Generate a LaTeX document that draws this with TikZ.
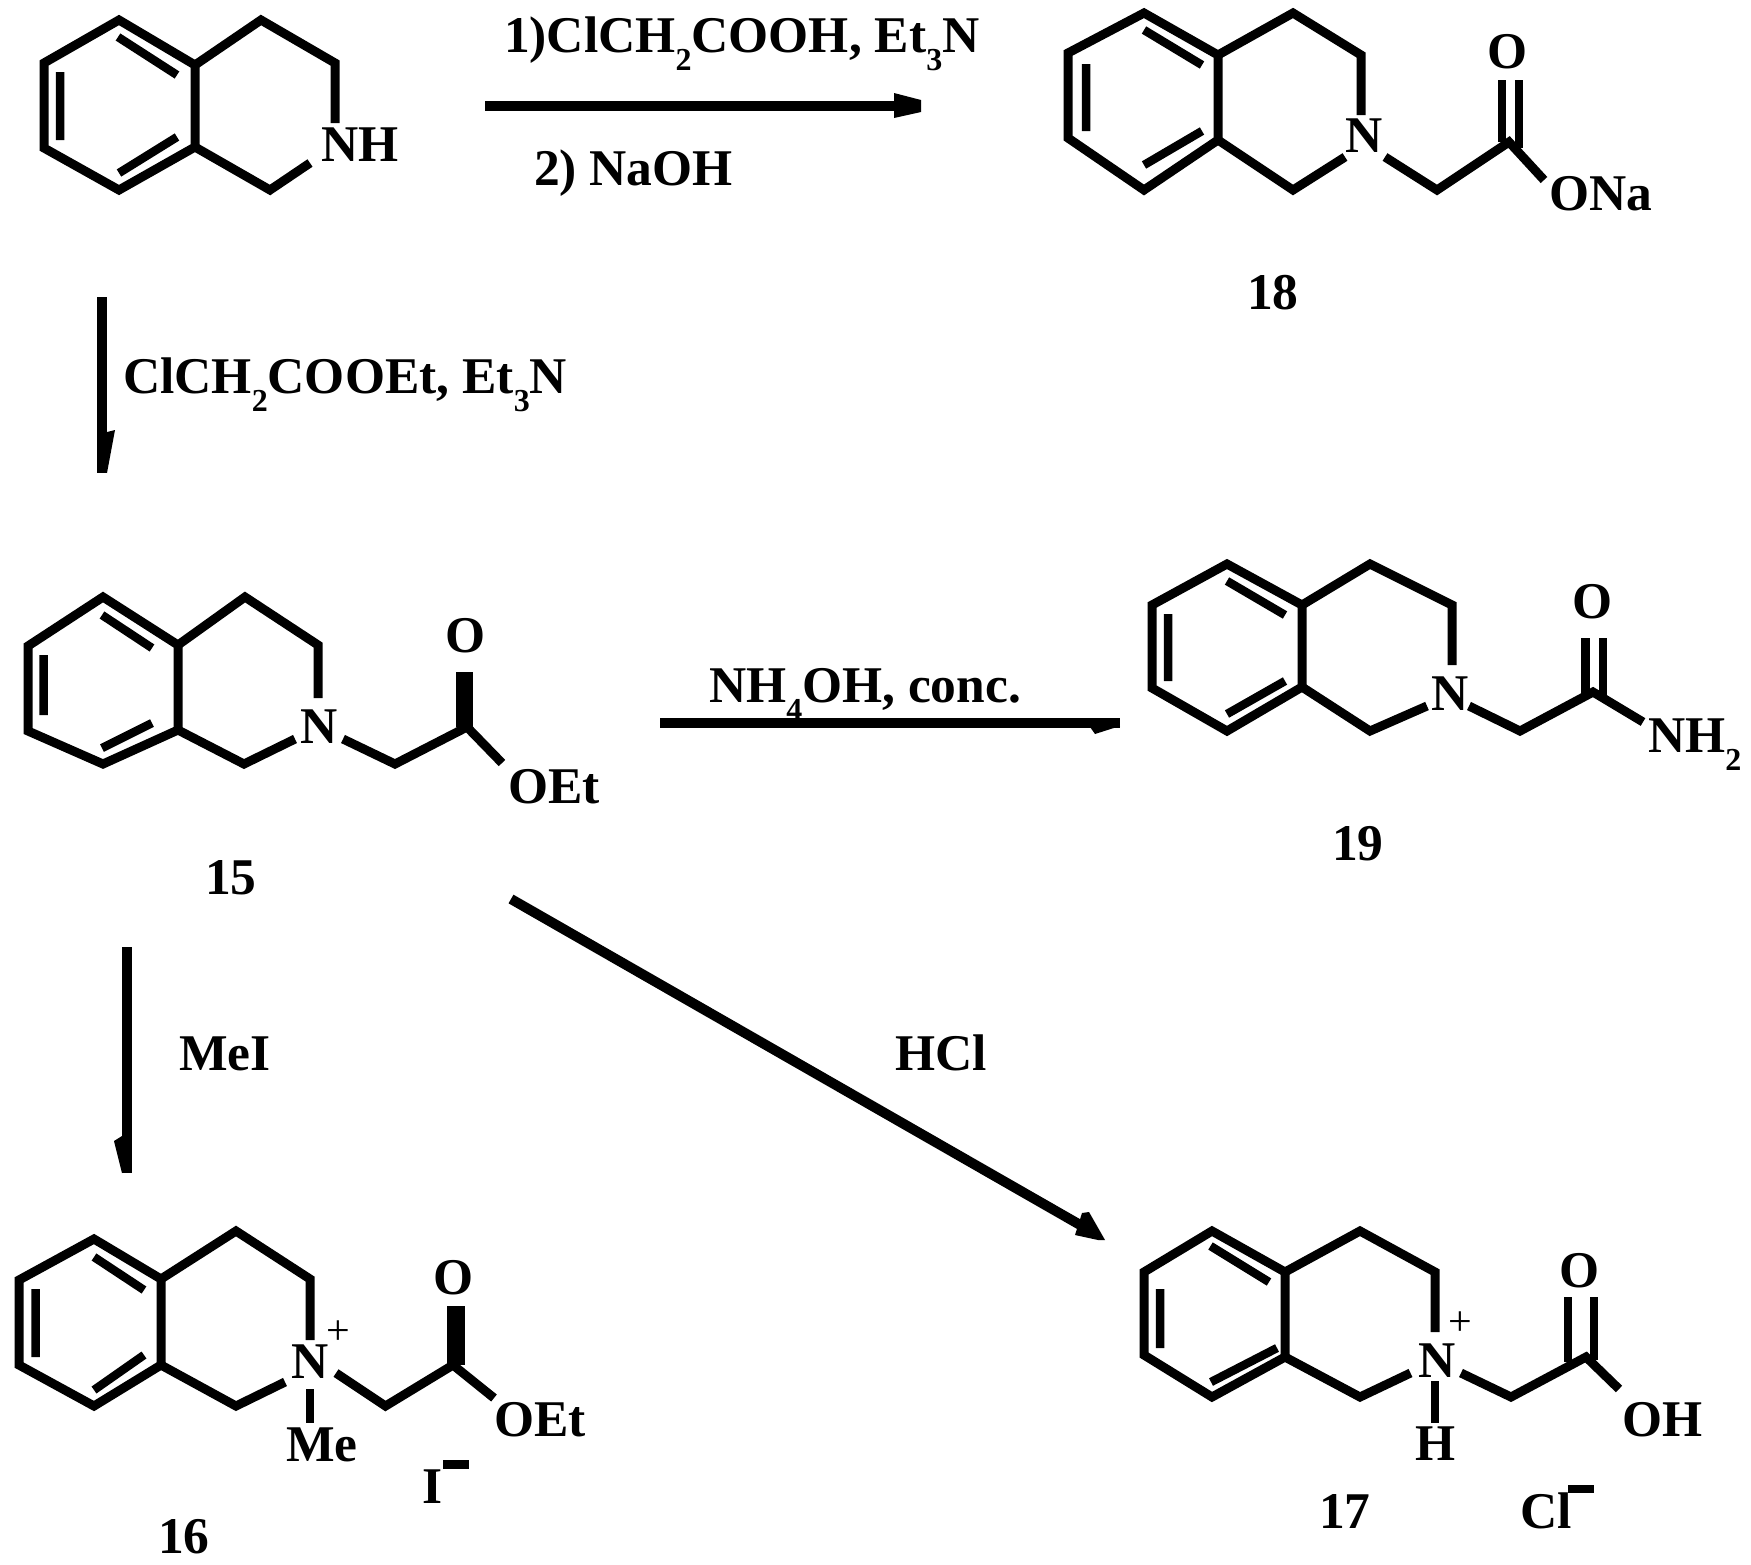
\documentclass[tikz,border=0pt]{standalone}
\usepackage{fontspec}
\setmainfont{Liberation Serif}
\newcommand{\lowsub}[1]{\raisebox{-18pt}{\fontsize{32}{32}\selectfont #1}}
\tikzset{
  x=1pt,y=-1pt,
  bondline/.style={line width=9pt,line join=miter,line cap=butt,miter limit=10},
  innerbond/.style={line width=8.5pt,line cap=butt},
  rxnline/.style={line width=10pt,line cap=butt},
  tipfill/.style={fill=black,draw=none},
  lab/.style={inner sep=0pt,outer sep=0pt,anchor=base west,xshift=-2pt,font=\fontsize{51.5}{60}\selectfont\bfseries},
  labc/.style={lab,anchor=base,xshift=0pt},
  chg/.style={inner sep=0pt,outer sep=0pt,font=\fontsize{42}{42}\selectfont},
}
\begin{document}
\begin{tikzpicture}
\useasboundingbox (0,0) rectangle (1751,1564);
% --- starting amine
\draw[bondline] (119,20)--(44,63)--(44,148)--(119,190)--(195,147)--(195,65)--cycle;
\draw[bondline] (195,65)--(261,20)--(335,63)--(335,123);
\draw[bondline] (195,147)--(270,190)--(310,163);
\draw[innerbond] (118,37)--(177,75) (60,72)--(60,140) (119,173)--(177,137);
\node[lab] (amNH) at (323,161) {NH};
% --- 18
\draw[bondline] (1144,13)--(1068,53)--(1068,138)--(1144,190)--(1218,140)--(1218,55)--cycle;
\draw[bondline] (1218,55)--(1293,13)--(1361,55)--(1361,115);
\draw[bondline] (1218,140)--(1293,190)--(1345,157);
\draw[bondline] (1385,157)--(1437,190)--(1509,142)--(1544,180);
\draw[innerbond] (1144,30)--(1202,65) (1086,64)--(1086,131) (1144,165)--(1202,131);
\draw[innerbond] (1502,80)--(1502,142) (1519,80)--(1519,148);
\node[lab] (n18) at (1347,152) {N};
\node[labc] (o18) at (1510,68) {O};
\node[lab] (ona) at (1551,210) {ONa};
\node[lab] (l18) at (1249,309) {18};
% --- 15
\draw[bondline] (103,597)--(28,646)--(28,731)--(103,764)--(178,730)--(178,645)--cycle;
\draw[bondline] (178,645)--(245,597)--(318,645)--(318,698);
\draw[bondline] (178,730)--(244,764)--(295,739);
\draw[bondline] (343,739)--(395,764)--(467,727)--(502,763);
\draw[innerbond] (102,615)--(152,648) (43.5,655)--(43.5,715) (102,748)--(152,723);
\fill (456,672) rectangle (473,727);
\node[lab] (n15) at (302,743) {N};
\node[labc] (o15) at (468,652) {O};
\node[lab] (oet15) at (510,803) {OEt};
\node[lab] (l15) at (207,894) {15};
% --- 19
\draw[bondline] (1227,564)--(1152,605)--(1152,688)--(1227,731)--(1302,687)--(1302,605)--cycle;
\draw[bondline] (1302,605)--(1370,564)--(1452,605)--(1452,665);
\draw[bondline] (1302,687)--(1370,731)--(1427,706);
\draw[bondline] (1469,706)--(1520,731)--(1593,692)--(1643,722);
\draw[innerbond] (1227,581)--(1285,615) (1168,614)--(1168,681) (1227,714)--(1285,681);
\draw[innerbond] (1585.5,638)--(1585.5,694) (1603,638)--(1603,696);
\node[lab] (n19) at (1433,710) {N};
\node[labc] (o19) at (1595,618) {O};
\node[lab] (nh2) at (1650,752) {NH\lowsub{2}};
\node[lab] (l19) at (1334,860) {19};
% --- 16
\draw[bondline] (94,1239)--(19,1280)--(19,1365)--(94,1406)--(161,1365)--(161,1279)--cycle;
\draw[bondline] (161,1279)--(236,1231)--(310,1279)--(310,1340);
\draw[bondline] (161,1365)--(236,1406)--(285,1382);
\draw[bondline] (336,1373)--(385.5,1406)--(453,1365)--(494,1398);
\draw[innerbond] (94,1257)--(144,1290) (35.6,1289)--(35.6,1357) (94,1390)--(144,1355);
\draw[innerbond] (310,1389)--(310,1423);
\fill (447,1306) rectangle (465,1365);
\node[lab] (n16) at (293,1378) {N};
\node[chg] (p16) at (338,1333) {+};
\node[labc] (o16) at (456,1294) {O};
\node[lab] (oet16) at (496,1436) {OEt};
\node[lab] (me16) at (288,1461) {Me};
\node[lab] (i16) at (424,1503) {I};
\fill (443,1460) rectangle (469,1469);
\node[lab] (l16) at (160,1553) {16};
% --- 17
\draw[bondline] (1212,1231)--(1144,1272)--(1144,1355)--(1212,1397)--(1285,1357)--(1285,1272)--cycle;
\draw[bondline] (1285,1272)--(1360,1231)--(1435,1272)--(1435,1332);
\draw[bondline] (1285,1357)--(1360,1397)--(1410.5,1373);
\draw[bondline] (1461,1373)--(1511,1397)--(1586,1357)--(1619,1389);
\draw[innerbond] (1210.5,1246)--(1269,1282) (1160,1289)--(1160,1348) (1211,1382)--(1277,1348);
\draw[innerbond] (1568,1297)--(1568,1362) (1594,1297)--(1594,1360);
\draw[innerbond] (1435,1381)--(1435,1423);
\node[lab] (n17) at (1420,1377) {N};
\node[chg] (p17) at (1460,1324) {+};
\node[labc] (o17) at (1582,1287) {O};
\node[lab] (oh17) at (1624,1436) {OH};
\node[labc] (h17) at (1438,1460) {H};
\node[lab] (cl17) at (1522,1528) {Cl};
\fill (1568,1485) rectangle (1594,1493);
\node[lab] (l17) at (1321,1528) {17};
% --- reagents
\node[lab] (r1) at (506,52) {1)ClCH\lowsub{2}COOH, Et\lowsub{3}N};
\node[lab] (r2) at (536,185) {2) NaOH};
\node[lab] (r3) at (125,393) {ClCH\lowsub{2}COOEt, Et\lowsub{3}N};
\node[lab] (r4) at (711,702) {NH\lowsub{4}OH, conc.};
\node[lab] (r5) at (181,1070) {MeI};
\node[lab] (r6) at (897,1070) {HCl};
% --- reaction arrows
\coordinate (a1s) at (485,106); \coordinate (a1e) at (895,106);
\draw[rxnline] (a1s)--(a1e);
\fill[tipfill] (894,93)--(921,100)--(921,112)--(894,118)--cycle;
\coordinate (a2s) at (102,297); \coordinate (a2e) at (102,473);
\draw[rxnline] (a2s)--(a2e);
\fill[tipfill] (107,432)--(115,430)--(107,473)--cycle;
\coordinate (a3s) at (660,722.5); \coordinate (a3e) at (1120,722.5);
\draw[rxnline] (a3s)--(a3e);
\fill[tipfill] (1090,727)--(1095,734)--(1120,726)--cycle;
\coordinate (a4s) at (127,947); \coordinate (a4e) at (127,1173);
\draw[rxnline] (a4s)--(a4e);
\fill[tipfill] (122,1136)--(114,1141)--(122,1173)--cycle;
\coordinate (a5s) at (511,899); \coordinate (a5e) at (1082,1226);
\draw[rxnline] (a5s)--(a5e);
\fill[tipfill] (1082,1213)--(1089,1212)--(1105,1240)--(1098,1240)--(1075,1235)--cycle;
\end{tikzpicture}
\end{document}
